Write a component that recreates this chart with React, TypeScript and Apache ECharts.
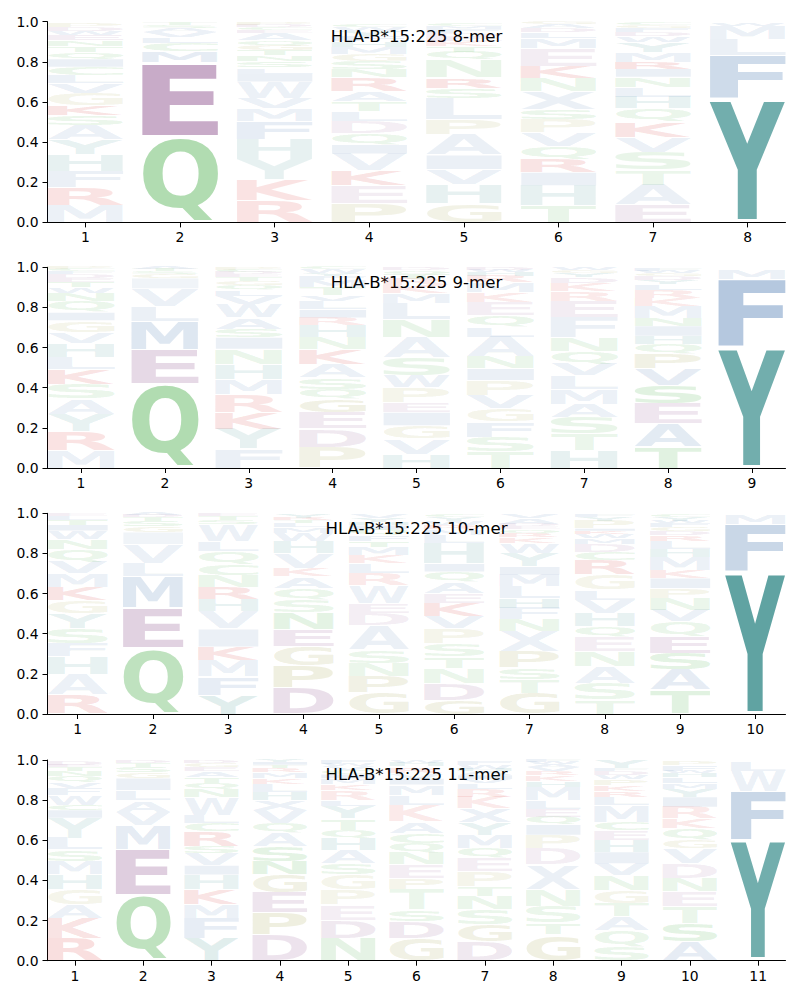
import React, { useEffect, useRef } from "react";
import * as echarts from "echarts";

type Cell = [string, number, number?];

// Each position: letters from bottom to top, [letter, probability, opacity?]
const mer8: Cell[][] = [
  [["M",.086],["R",.088,.13],["F",.08],["H",.083],["Y",.075],["A",.072],["S",.05],["K",.05,.13],["G",.06],["V",.05],["L",.04],["C",.04],["I",.04],["Q",.035],["T",.03],["N",.03],["E",.025],["W",.02],["D",.02],["P",.02]],
  [["Q",.43,.37],["E",.37,.48],["M",.055,.12],["C",.04],["L",.03],["V",.025],["A",.02],["S",.015],["T",.01]],
  [["R",.11,.13],["K",.105,.13],["Y",.1],["H",.1],["F",.088,.12],["M",.063],["V",.055],["W",.08],["I",.04],["L",.03],["S",.03],["N",.03],["T",.025],["G",.025],["Q",.025],["A",.035],["E",.015],["C",.015],["D",.01],["P",.015]],
  [["P",.095,.12],["E",.087],["K",.075,.13],["V",.085],["I",.045],["Q",.058],["D",.058],["L",.05],["T",.05],["A",.05],["R",.07,.12],["N",.04],["S",.04],["G",.035],["M",.035],["H",.03],["F",.025],["Y",.025],["W",.02],["C",.015]],
  [["G",.095,.12],["H",.095],["V",.075],["I",.07],["A",.1],["P",.075],["L",.11],["S",.05],["R",.05,.12],["N",.09],["Q",.04],["T",.03],["K",.025],["E",.02],["D",.02],["F",.02],["M",.015],["C",.01]],
  [["T",.083],["H",.1],["I",.066],["R",.066,.12],["Q",.066],["V",.066],["P",.066],["S",.05],["X",.09],["N",.066],["K",.058,.12],["E",.09],["M",.05],["L",.03],["D",.02],["A",.02],["G",.015]],
  [["E",.086,.12],["A",.1],["T",.075],["S",.09],["V",.075],["K",.075,.12],["Q",.066],["H",.058],["L",.05],["N",.05],["I",.04],["R",.033,.12],["M",.05],["Y",.05],["W",.03],["D",.02],["F",.02],["G",.015],["C",.01]],
  [["Y",.615,.6],["F",.215,.25],["L",.08,.1],["M",.07,.1],["W",.015]],
];

const mer9: Cell[][] = [
  [["M",.09],["R",.093,.13],["Y",.086],["A",.075],["S",.075],["K",.075,.13],["L",.058],["H",.07],["V",.055],["G",.058],["I",.04],["Q",.058],["N",.04],["W",.03],["T",.025],["E",.02],["D",.02],["F",.015],["C",.01],["P",.01]],
  [["Q",.42,.37],["E",.17,.22],["M",.14,.17],["L",.075,.1],["V",.09],["I",.05,.08],["G",.02],["S",.015],["T",.01],["A",.01]],
  [["F",.095],["Y",.1],["K",.083,.12],["R",.09,.12],["M",.075],["H",.075],["N",.075],["I",.058],["S",.04],["A",.058],["W",.066],["V",.04],["L",.03],["Q",.025],["G",.02],["T",.02],["E",.015],["D",.01],["C",.01],["P",.015]],
  [["P",.105,.12],["D",.09,.12],["E",.083,.12],["G",.066,.12],["Q",.05],["S",.058],["A",.066],["K",.075,.12],["N",.058],["H",.058],["R",.04],["I",.04],["L",.04],["V",.03],["T",.04],["M",.035],["F",.02],["Y",.015],["W",.02],["C",.01]],
  [["H",.07],["V",.075],["G",.066],["I",.066],["E",.05],["P",.075],["W",.058],["S",.09],["A",.1],["N",.09],["L",.08],["M",.05],["K",.04],["R",.03],["T",.025],["Q",.02],["D",.01]],
  [["T",.08],["S",.075],["F",.075],["G",.066],["V",.066],["P",.075],["I",.058],["N",.058],["A",.1],["L",.05],["Q",.058],["E",.066],["K",.05],["M",.05],["R",.03],["H",.02],["W",.01],["D",.01]],
  [["H",.087],["T",.083],["S",.083],["A",.066],["M",.075],["L",.066],["V",.058],["Q",.066],["N",.066],["F",.1],["E",.083],["R",.05],["K",.04],["D",.03],["Y",.02],["G",.015],["W",.01]],
  [["T",.105,.14],["A",.115,.14],["E",.1,.14],["S",.09,.14],["V",.083,.12],["P",.075,.12],["Q",.05],["H",.04],["I",.05],["N",.04],["M",.06],["K",.04],["R",.04],["L",.03],["Y",.02],["D",.02],["G",.015],["W",.01],["F",.01]],
  [["Y",.6,.6],["F",.34,.38],["M",.05]],
];

const mer10: Cell[][] = [
  [["R",.095,.14],["A",.1],["H",.09],["F",.066],["S",.075],["Y",.075],["G",.066],["K",.066,.12],["M",.066],["V",.058],["Q",.066],["N",.05],["W",.04],["I",.03],["T",.025],["L",.02],["E",.01]],
  [["Q",.33,.3],["E",.2,.26],["M",.155,.17],["L",.066,.1],["V",.095],["I",.06,.08],["G",.03],["S",.025],["T",.02],["D",.01],["A",.01]],
  [["Y",.095,.12],["F",.09,.12],["M",.083],["K",.066,.12],["I",.09],["V",.09],["H",.058],["R",.058,.12],["N",.058],["C",.058],["Q",.066],["L",.05],["W",.083],["S",.02],["T",.02],["E",.01]],
  [["D",.13,.18],["P",.108,.15],["G",.1,.15],["E",.083,.14],["N",.083,.12],["S",.066],["Q",.058],["A",.058],["K",.04],["V",.075],["H",.058],["W",.04],["M",.03],["L",.02],["T",.015],["R",.01],["Y",.02]],
  [["G",.105,.14],["P",.083,.12],["N",.066],["S",.066],["A",.124],["D",.058],["E",.05],["W",.09],["R",.058],["L",.05],["K",.04],["M",.04],["T",.03],["F",.03],["Q",.03],["I",.02],["H",.015],["Y",.02],["V",.02]],
  [["G",.07,.12],["D",.083,.12],["N",.075],["T",.058],["S",.066],["P",.075],["V",.058],["K",.066,.12],["E",.05],["A",.058],["Q",.05],["I",.04],["H",.1],["L",.04],["M",.03],["R",.02],["W",.02],["Y",.02],["C",.01]],
  [["G",.105,.14],["T",.066],["S",.058],["P",.083,.12],["X",.1],["N",.058],["F",.058],["H",.05],["L",.058],["M",.058],["I",.04],["Y",.066],["W",.05],["K",.03],["R",.02],["Q",.02],["E",.015],["D",.01],["A",.03],["V",.02]],
  [["T",.07],["S",.083],["A",.083],["N",.075],["E",.075],["Q",.05],["H",.066],["V",.066],["L",.05],["G",.075],["R",.075,.12],["C",.04],["D",.04],["M",.03],["W",.02],["K",.015],["I",.01],["P",.04],["Y",.02],["F",.015]],
  [["T",.12,.14],["A",.1,.12],["S",.083,.14],["E",.083,.14],["Q",.075],["V",.058],["N",.058],["P",.05],["I",.05],["K",.04],["M",.066],["H",.04],["L",.04],["R",.03],["D",.02],["G",.02],["F",.02],["W",.01],["Y",.02],["C",.015]],
  [["Y",.71,.68],["F",.235,.28],["M",.05]],
];

const mer11: Cell[][] = [
  [["R",.113,.15],["K",.1,.15],["A",.066],["G",.075],["H",.075],["M",.066],["S",.058],["L",.058],["Y",.1],["I",.04],["C",.025],["W",.05],["F",.035],["V",.03],["Q",.03],["N",.025],["T",.02],["E",.01],["D",.02]],
  [["Q",.325,.3],["E",.23,.28],["M",.12,.15],["V",.066],["A",.058],["L",.05],["I",.06],["G",.03],["S",.025],["T",.02],["D",.01]],
  [["Y",.113,.12],["F",.1,.12],["M",.066],["K",.075,.13],["H",.075],["I",.045],["V",.06],["S",.035],["R",.075,.13],["C",.04],["L",.04],["W",.09],["N",.04],["Q",.03],["T",.03],["A",.03],["E",.02],["G",.02],["D",.01]],
  [["D",.13,.16],["P",.108,.15],["E",.1,.15],["G",.09,.14],["N",.066,.12],["S",.075,.12],["A",.066],["Q",.05],["V",.066],["X",.05],["H",.04],["L",.04],["K",.03],["M",.03],["R",.02],["T",.015],["I",.015],["Y",.01]],
  [["N",.113,.12],["D",.09,.12],["E",.075],["P",.075],["G",.075],["S",.058],["A",.066],["H",.058],["Q",.04],["T",.058],["Y",.06],["L",.03],["R",.05],["K",.03],["M",.03],["I",.02],["C",.02],["V",.02],["W",.01],["F",.02]],
  [["G",.113,.14],["D",.083,.12],["S",.058],["T",.1],["P",.058],["E",.066],["N",.058],["Q",.05],["C",.05],["A",.058],["K",.083],["L",.05],["M",.05],["I",.03],["V",.03],["R",.03],["H",.02],["W",.01]],
  [["D",.096,.14],["G",.083,.12],["S",.075],["N",.066],["T",.05],["P",.075],["E",.066],["Q",.05],["M",.066],["Y",.06],["X",.07],["K",.058],["R",.04],["L",.03],["V",.02],["I",.02],["A",.02],["H",.01],["W",.02],["F",.02]],
  [["G",.13,.14],["T",.058],["S",.083],["N",.083],["X",.124],["D",.083],["P",.066],["I",.05],["Q",.04],["E",.04],["L",.04],["M",.066],["H",.03],["K",.03],["R",.02],["V",.02],["A",.015],["W",.01],["F",.01]],
  [["S",.07],["Q",.083],["A",.066],["T",.066],["G",.066],["N",.075],["V",.058],["I",.058],["H",.058],["E",.05],["C",.04],["M",.083],["L",.04],["R",.03],["K",.03],["P",.03],["W",.02],["D",.02],["F",.015],["Y",.04]],
  [["A",.096,.12],["S",.09,.13],["T",.083],["E",.075],["N",.066],["D",.075],["V",.075],["G",.04],["Q",.058],["K",.05],["R",.058],["I",.05],["Y",.04],["M",.03],["L",.03],["H",.02],["W",.01],["F",.03],["P",.02]],
  [["Y",.6,.6],["F",.245,.28],["W",.1,.1],["L",.045]],
];

const titles = [
  "HLA-B*15:225 8-mer",
  "HLA-B*15:225 9-mer",
  "HLA-B*15:225 10-mer",
  "HLA-B*15:225 11-mer",
];

const GREEN = [44, 160, 44];
const PURPLE = [140, 80, 140];
const RED = [214, 39, 40];
const TEAL = [20, 120, 118];
const BLUE = [60, 110, 170];
const OLIVE = [150, 150, 50];
const letterColor: Record<string, number[]> = {
  Q: GREEN, N: GREEN, S: GREEN, T: GREEN, C: GREEN,
  E: PURPLE, D: PURPLE,
  R: RED, K: RED,
  Y: TEAL, H: TEAL,
  F: BLUE, M: BLUE, A: BLUE, V: BLUE, L: BLUE, I: BLUE, W: BLUE, X: BLUE,
  P: OLIVE, G: OLIVE,
};

const DEFAULT_ALPHA = 0.1;
const VPAD = 0.05;
const LETTER_W = 0.8;
const GLYPH_FONT = 'bold 100px "DejaVu Sans"';
const TEXT_FONT = "DejaVu Sans";

type Metric = { l: number; top: number; w: number; h: number };

// Offset (px, downward) of the alphabetic baseline when SVG text uses dominant-baseline: central
function svgCentralShift(fallback: number): number {
  try {
    const NS = "http://www.w3.org/2000/svg";
    const svg = document.createElementNS(NS, "svg");
    svg.setAttribute("width", "200");
    svg.setAttribute("height", "200");
    (svg as any).style.position = "absolute";
    (svg as any).style.left = "-5000px";
    (svg as any).style.top = "0px";
    const t1 = document.createElementNS(NS, "text");
    t1.setAttribute("x", "0");
    t1.setAttribute("y", "100");
    t1.setAttribute("style", `font: ${GLYPH_FONT}`);
    t1.textContent = "H";
    const t2 = t1.cloneNode(true) as SVGTextElement;
    t2.setAttribute("dominant-baseline", "central");
    svg.appendChild(t1);
    svg.appendChild(t2);
    document.body.appendChild(svg);
    const b1 = (t1 as any).getBBox();
    const b2 = (t2 as any).getBBox();
    document.body.removeChild(svg);
    const s = b2.y - b1.y;
    if (isFinite(s) && Math.abs(s) > 1) return s;
  } catch (e) {
    /* ignore */
  }
  return fallback;
}

function measureLetters(): Record<string, Metric> {
  const canvas = document.createElement("canvas");
  const ctx = canvas.getContext("2d")!;
  ctx.font = GLYPH_FONT;
  ctx.textBaseline = "alphabetic";
  ctx.textAlign = "left";
  const fm = ctx.measureText("H");
  const fallback = ((fm.fontBoundingBoxAscent || 93) - (fm.fontBoundingBoxDescent || 24)) / 2;
  const shift = svgCentralShift(fallback);
  const out: Record<string, Metric> = {};
  Object.keys(letterColor).forEach((ch) => {
    const m = ctx.measureText(ch);
    const l = m.actualBoundingBoxLeft;
    const r = m.actualBoundingBoxRight;
    const a = m.actualBoundingBoxAscent;
    const d = m.actualBoundingBoxDescent;
    // local (central-baseline) y of the ink top
    out[ch] = { l, top: shift - a, w: l + r, h: a + d };
  });
  return out;
}

export default function App() {
  const ref = useRef<HTMLDivElement>(null);

  useEffect(() => {
    const el = ref.current!;
    const chart = echarts.init(el, null, { renderer: "svg" });
    const metrics = measureLetters();
    const panels = [mer8, mer9, mer10, mer11];
    const tops = [21.7, 267.3, 513.3, 760];
    const gridH = 200.7;
    const gridL = 47.5;
    const gridW = 738;

    const grid: any[] = [];
    const xAxis: any[] = [];
    const yAxis: any[] = [];
    const series: any[] = [];
    const graphic: any[] = [];

    panels.forEach((data, i) => {
      grid.push({ left: gridL, top: tops[i], width: gridW, height: gridH });
      const positions = data.map((_, j) => j + 1);
      xAxis.push({
        type: "value",
        gridIndex: i,
        min: 0.6,
        max: data.length + 0.4,
        splitLine: { show: false },
        axisLine: { show: true, onZero: false, lineStyle: { color: "#000", width: 1 } },
        axisTick: { show: true, customValues: positions, length: 5, lineStyle: { color: "#000", width: 1 } },
        axisLabel: { show: true, customValues: positions, margin: 8, color: "#000", fontSize: 13.9, fontFamily: TEXT_FONT },
      });
      yAxis.push({
        type: "value",
        gridIndex: i,
        min: 0,
        max: 1,
        interval: 0.2,
        splitLine: { show: false },
        axisLine: { show: true, lineStyle: { color: "#000", width: 1 } },
        axisTick: { show: true, length: 5, lineStyle: { color: "#000", width: 1 } },
        axisLabel: {
          margin: 9,
          color: "#000",
          fontSize: 13.9,
          fontFamily: TEXT_FONT,
          formatter: (v: number) => v.toFixed(1),
        },
      });

      const flat: { x: number; y0: number; y1: number; letter: string; alpha: number }[] = [];
      data.forEach((stack, j) => {
        let base = 0;
        stack.forEach(([letter, h, a]) => {
          flat.push({ x: j + 1, y0: base, y1: base + h, letter, alpha: a ?? DEFAULT_ALPHA });
          base += h;
        });
      });

      series.push({
        type: "custom",
        xAxisIndex: i,
        yAxisIndex: i,
        silent: true,
        clip: false,
        encode: { x: 0, y: [1, 2] },
        data: flat.map((f) => [f.x, f.y0, f.y1]),
        renderItem: (params: any, api: any) => {
          const rec = flat[params.dataIndex];
          const tl = api.coord([rec.x - LETTER_W / 2, rec.y1]);
          const br = api.coord([rec.x + LETTER_W / 2, rec.y0]);
          const boxH = br[1] - tl[1];
          const pad = (boxH * VPAD) / 2;
          const inkT = tl[1] + pad;
          const inkH = boxH - 2 * pad;
          const inkW = br[0] - tl[0];
          const m = metrics[rec.letter];
          if (!m || inkH <= 0.05) return null;
          const sx = inkW / m.w;
          const sy = inkH / m.h;
          const c = letterColor[rec.letter];
          return {
            type: "text",
            x: tl[0] + m.l * sx,
            y: inkT - m.top * sy,
            scaleX: sx,
            scaleY: sy,
            silent: true,
            style: {
              text: rec.letter,
              x: 0,
              y: 0,
              font: GLYPH_FONT,
              fill: `rgba(${c[0]},${c[1]},${c[2]},${rec.alpha})`,
              align: "left",
              verticalAlign: "middle",
              textAlign: "left",
              textVerticalAlign: "middle",
            },
          };
        },
      });

      graphic.push({
        type: "text",
        x: gridL + gridW / 2,
        y: tops[i] + 14.9,
        silent: true,
        style: {
          text: titles[i],
          font: `16.6px "${TEXT_FONT}"`,
          fill: "#000",
          align: "center",
          verticalAlign: "middle",
          textAlign: "center",
          textVerticalAlign: "middle",
        },
      });
    });

    chart.setOption({
      animation: false,
      backgroundColor: "#fff",
      grid,
      xAxis,
      yAxis,
      series,
      graphic,
    });

    return () => {
      chart.dispose();
    };
  }, []);

  return (
    <div
      ref={ref}
      style={{ position: "absolute", left: 0, top: 0, width: 800, height: 1000, background: "#fff" }}
    />
  );
}
